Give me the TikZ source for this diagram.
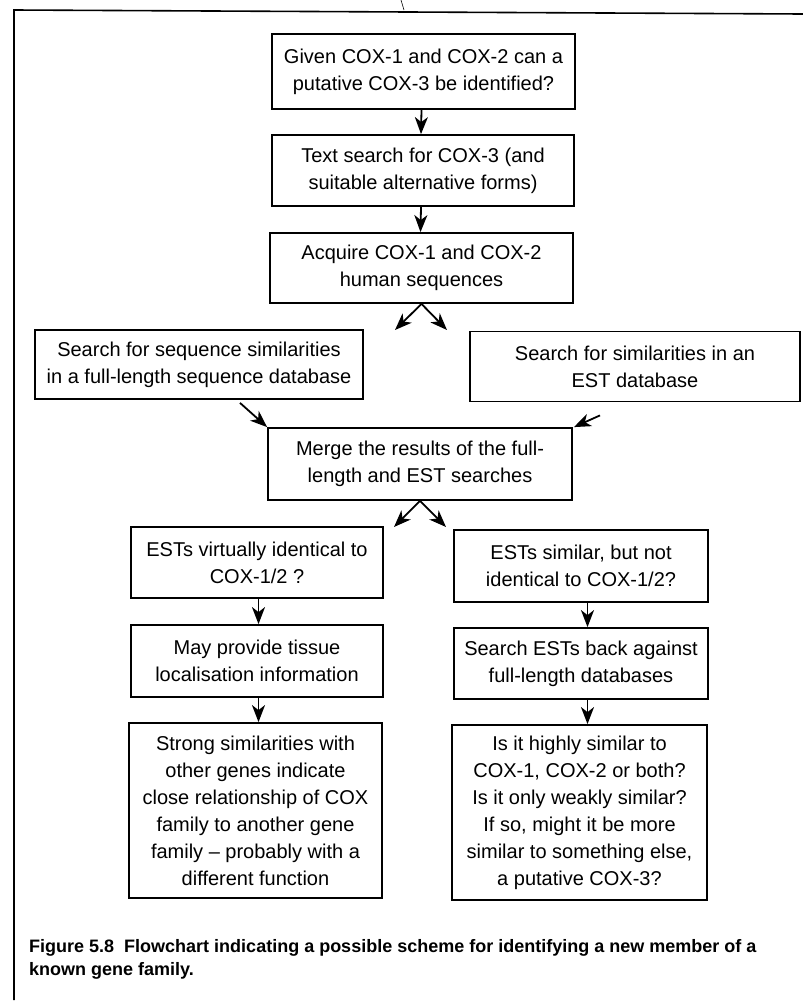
\documentclass[tikz,border=0pt]{standalone}
\usepackage{fontspec}
\setmainfont{Liberation Sans}
\usetikzlibrary{arrows.meta,calc}
\tikzset{
  flowbox/.style={draw, line width=1.8pt, rectangle, align=center, inner sep=0pt,
    font={\fontsize{20}{27}\selectfont}},
  flowarrow/.style={line width=1.8pt, -{Stealth[length=17pt,width=13pt,inset=5pt]}},
  captext/.style={anchor=base west, inner sep=0pt, font={\bfseries\fontsize{18}{23}\selectfont}},
  frameline/.style={line width=1.6pt},
}
\begin{document}
\begin{tikzpicture}[x=1pt,y=-1pt]
\useasboundingbox (0,0) rectangle (803,1007);
% outer frame
\coordinate (ftl) at (14,10);
\coordinate (ftr) at (803,14);
\coordinate (fbl) at (14,1000);
\draw[frameline] (ftr) -- (ftl) -- (fbl);
\coordinate (scanA) at (401,0);
\coordinate (scanB) at (404,10);
\draw[line width=0.6pt] (scanA) -- (scanB);

% boxes
\node[flowbox, minimum width=303pt, minimum height=75pt] (b1) at (423.5,71.5)
  {Given COX-1 and COX-2 can a\\putative COX-3 be identified?};
\node[flowbox, minimum width=302pt, minimum height=71pt] (b2) at (423,170.5)
  {Text search for COX-3 (and\\suitable alternative forms)};
\node[flowbox, minimum width=303pt, minimum height=70pt] (b3) at (421.5,268)
  {Acquire COX-1 and COX-2\\human sequences};
\node[flowbox, minimum width=328pt, minimum height=69pt] (b4) at (199,364.5)
  {Search for sequence similarities\\in a full-length sequence database};
\node[flowbox, minimum width=330pt, minimum height=70pt] (b5) at (635,366.5)
  {Search for similarities in an\\EST database};
\node[flowbox, minimum width=304pt, minimum height=72pt] (b6) at (420,464)
  {Merge the results of the full-\\length and EST searches};
\node[flowbox, minimum width=252pt, minimum height=71pt] (b7) at (257,562.5)
  {ESTs virtually identical to\\COX-1/2 ?};
\node[flowbox, minimum width=254pt, minimum height=72pt] (b8) at (581,566)
  {ESTs similar, but not\\identical to COX-1/2?};
\node[flowbox, minimum width=252pt, minimum height=72pt] (b9) at (257,661)
  {May provide tissue\\localisation information};
\node[flowbox, minimum width=254pt, minimum height=71pt] (b10) at (581,663.5)
  {Search ESTs back against\\full-length databases};
\node[flowbox, minimum width=253pt, minimum height=175pt] (b11) at (255.5,810.5)
  {Strong similarities with\\other genes indicate\\close relationship of COX\\family to another gene\\family -- probably with a\\different function};
\node[flowbox, minimum width=255pt, minimum height=175pt] (b12) at (579.5,812.5)
  {Is it highly similar to\\COX-1, COX-2 or both?\\Is it only weakly similar?\\If so, might it be more\\similar to something else,\\a putative COX-3?};

% arrows
\draw[flowarrow] ([xshift=-2pt]b1.south) -- ([xshift=-2pt]b2.north);
\draw[flowarrow] ([xshift=-2pt]b2.south) -- ([xshift=-1pt]b3.north);
\coordinate (s1l) at (395,330);
\coordinate (s1r) at (447,330);
\draw[flowarrow] (b3.south) -- (s1l);
\draw[flowarrow] (b3.south) -- (s1r);
\draw[flowarrow] ([xshift=41pt,yshift=-3pt]b4.south) -- (b6.north west);
\draw[flowarrow] ([xshift=-35pt,yshift=-13pt]b5.south) -- ([xshift=1pt]b6.north east);
\coordinate (s2l) at (394,527);
\coordinate (s2r) at (446,527);
\draw[flowarrow] (b6.south) -- (s2l);
\draw[flowarrow] (b6.south) -- (s2r);
\draw[flowarrow] ([xshift=1.5pt]b7.south) -- ([xshift=1.5pt]b9.north);
\draw[flowarrow] ([xshift=6.5pt]b8.south) -- ([xshift=6.5pt]b10.north);
\draw[flowarrow] ([xshift=1.5pt]b9.south) -- ([xshift=3pt]b11.north);
\draw[flowarrow] ([xshift=6.5pt]b10.south) -- ([xshift=8pt]b12.north);

% caption
\node[captext] (cap1) at (29,952) {Figure 5.8\ \ Flowchart indicating a possible scheme for identifying a new member of a};
\node[captext] (cap2) at (29,975) {known gene family.};
\end{tikzpicture}
\end{document}
